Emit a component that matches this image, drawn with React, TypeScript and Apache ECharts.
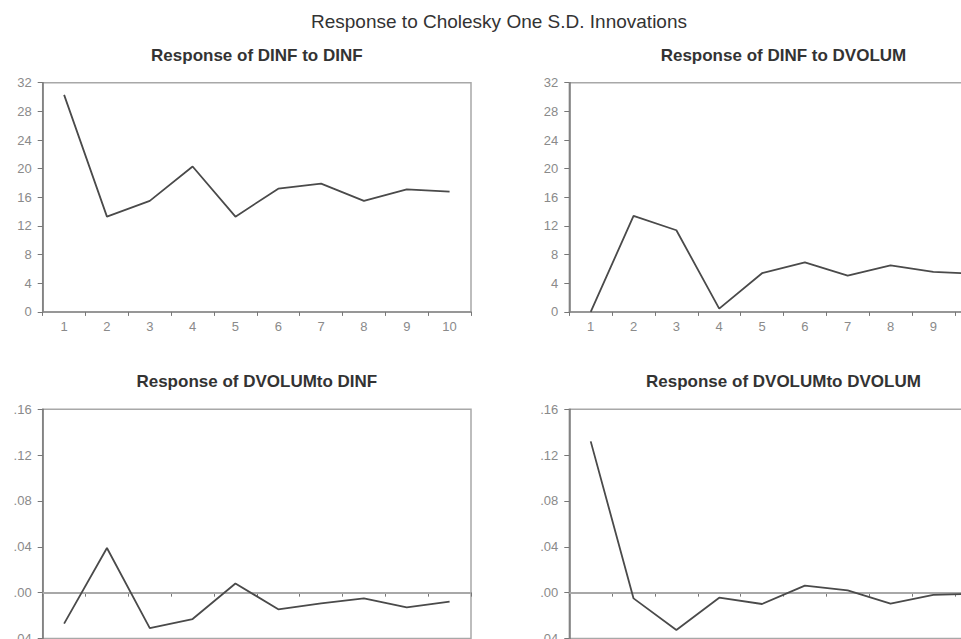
import React, { useEffect, useRef } from "react";
import * as echarts from "echarts";

const categories = ["1", "2", "3", "4", "5", "6", "7", "8", "9", "10"];
const dinfToDinf = [30.3, 13.3, 15.5, 20.3, 13.3, 17.2, 17.9, 15.5, 17.1, 16.8];
const dinfToDvolum = [0.0, 13.4, 11.4, 0.45, 5.4, 6.9, 5.05, 6.5, 5.6, 5.3];
const dvolumToDinf = [-0.027, 0.039, -0.031, -0.023, 0.008, -0.0145, -0.0093, -0.0049, -0.0128, -0.0078];
const dvolumToDvolum = [0.132, -0.005, -0.0326, -0.0044, -0.0099, 0.0061, 0.002, -0.0095, -0.002, -0.001];

const mainTitle = "Response to Cholesky One S.D. Innovations";
const panelTitles = [
  "Response of DINF to DINF",
  "Response of DINF to DVOLUM",
  "Response of DVOLUMto DINF",
  "Response of DVOLUMto DVOLUM",
];

const FONT = "'Liberation Sans', Arial, sans-serif";

export default function App() {
  const ref = useRef<HTMLDivElement>(null);

  useEffect(() => {
    if (!ref.current) return;
    const chart = echarts.init(ref.current, undefined, { renderer: "svg" });

    const lefts = [42.7, 569.3];
    const tops = [82.7, 409.3];
    const W = 428.3;
    const H = 229.2;

    const grids: any[] = [];
    const xAxes: any[] = [];
    const yAxes: any[] = [];
    const series: any[] = [];
    const datasets = [dinfToDinf, dinfToDvolum, dvolumToDinf, dvolumToDvolum];

    const decFmt = (v: number) => {
      const s = Math.abs(v).toFixed(2).replace(/^0/, "");
      return (v < -1e-9 ? "-" : "") + s;
    };

    for (let i = 0; i < 4; i++) {
      const row = Math.floor(i / 2);
      const col = i % 2;
      grids.push({
        left: lefts[col],
        top: tops[row],
        width: W,
        height: H,
        outerBoundsMode: "none",
        containLabel: false,
        show: true,
        borderColor: "#a8a8a8",
        borderWidth: 1.5,
        backgroundColor: "transparent",
      });
      xAxes.push({
        type: "category",
        gridIndex: i,
        data: categories,
        boundaryGap: true,
        axisLine: { show: true, lineStyle: { color: "#8a8a8a", width: 1.5 } },
        axisTick: { show: true, inside: false, length: 4, lineStyle: { color: "#777" } },
        axisLabel: { color: "#8a8a8a", fontSize: 13, fontFamily: FONT, margin: 8 },
        splitLine: { show: false },
      });
      const top = row === 0;
      yAxes.push({
        type: "value",
        gridIndex: i,
        min: top ? 0 : -0.04,
        max: top ? 32 : 0.16,
        interval: top ? 4 : 0.04,
        axisLine: { show: true, onZero: false, lineStyle: { color: "#777", width: 1.5 } },
        axisTick: { show: true, inside: false, length: 5, lineStyle: { color: "#777" } },
        axisLabel: {
          color: "#8a8a8a",
          fontSize: 13,
          fontFamily: FONT,
          margin: 11,
          formatter: top ? (v: number) => String(Math.round(v)) : decFmt,
        },
        splitLine: { show: false },
      });
      const s: any = {
        type: "line",
        xAxisIndex: i,
        yAxisIndex: i,
        data: datasets[i],
        symbol: "none",
        lineStyle: { color: "#4a4a4a", width: 1.8 },
        itemStyle: { color: "#4a4a4a" },
        z: 3,
      };
      if (!top) {
        s.markLine = {
          silent: true,
          symbol: ["none", "none"],
          label: { show: false },
          lineStyle: { color: "#a8a8a8", width: 2, type: "solid" },
          data: [{ yAxis: 0 }],
          z: 1,
        };
      }
      series.push(s);
    }

    const graphics: any[] = [
      {
        type: "text",
        x: 499,
        y: 21,
        style: {
          text: mainTitle,
          fontSize: 19,
          fontFamily: FONT,
          fill: "#333",
          textAlign: "center",
          textVerticalAlign: "middle",
        },
      },
    ];
    const titleY = [55, 381.5];
    for (let i = 0; i < 4; i++) {
      const row = Math.floor(i / 2);
      const col = i % 2;
      graphics.push({
        type: "text",
        x: lefts[col] + W / 2,
        y: titleY[row],
        style: {
          text: panelTitles[i],
          fontSize: 17,
          fontWeight: "bold",
          fontFamily: FONT,
          fill: "#333",
          textAlign: "center",
          textVerticalAlign: "middle",
        },
      });
    }

    chart.setOption({
      animation: false,
      backgroundColor: "#ffffff",
      grid: grids,
      xAxis: xAxes,
      yAxis: yAxes,
      series,
      graphic: graphics,
    });

    return () => chart.dispose();
  }, []);

  return (
    <div
      ref={ref}
      style={{ position: "fixed", left: 0, top: 0, width: 961, height: 639, background: "#fff" }}
    />
  );
}
